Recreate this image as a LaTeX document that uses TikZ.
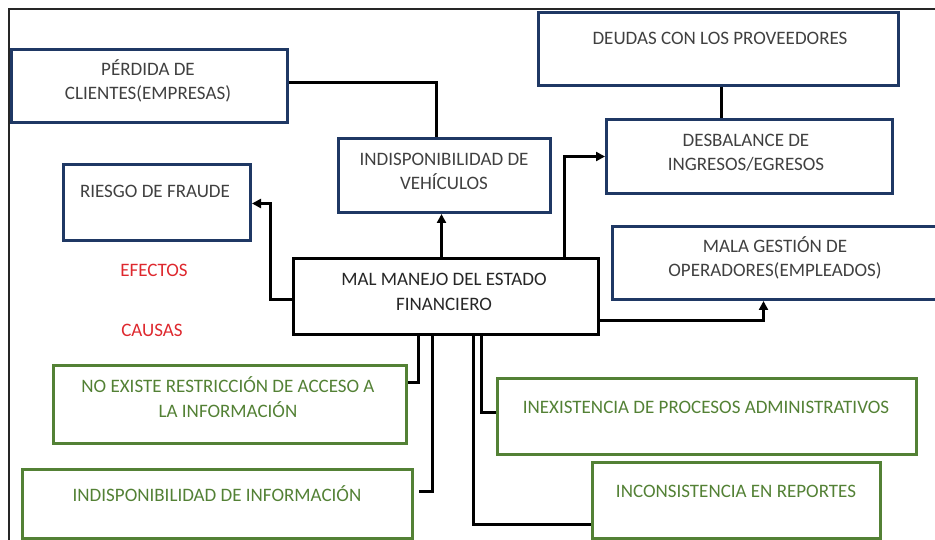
\documentclass[tikz,border=0pt]{standalone}
\usepackage{fontspec}
\setmainfont{Carlito}
\usetikzlibrary{arrows.meta}
\definecolor{navy}{RGB}{31,56,100}
\definecolor{leaf}{RGB}{83,129,53}
\definecolor{ink}{RGB}{64,64,64}
\definecolor{redtx}{RGB}{222,40,46}
\tikzset{
  ebox/.style={draw=navy, line width=3pt, rectangle, inner sep=0pt, anchor=north west},
  cbox/.style={draw=leaf, line width=3pt, rectangle, inner sep=0pt, anchor=north west},
  mbox/.style={draw=black, line width=3pt, rectangle, inner sep=0pt, anchor=north west},
  etx/.style={text=ink, font=\fontsize{19}{24.5}\selectfont, align=center, anchor=base, inner sep=0pt},
  ctx/.style={etx, text=leaf},
  rtx/.style={etx, text=redtx},
  wire/.style={draw=black, line width=3pt},
  arr/.style={wire, -{Triangle[length=9pt,width=9pt]}},
  frame/.style={draw=black!85, line width=1.5pt}
}
\begin{document}
\begin{tikzpicture}[x=1pt,y=-1pt]
\useasboundingbox (0,0) rectangle (935,540);
\draw[frame] (935,9) -- (9,9) -- (9,540);
% effects
\node[ebox, minimum width=276, minimum height=73] (perd) at (10,48) {};
\node[ebox, minimum width=187, minimum height=76] (ries) at (62,163) {};
\node[ebox, minimum width=212, minimum height=74] (veh) at (337,137) {};
\node[ebox, minimum width=360, minimum height=73] (deud) at (537,11) {};
\node[ebox, minimum width=286, minimum height=74] (desb) at (605,118) {};
\node[ebox, minimum width=329, minimum height=73] (mala) at (611,225) {};
% core
\node[mbox, minimum width=305, minimum height=76, fill=white] (mal) at (292,257) {};
% causes
\node[cbox, minimum width=353, minimum height=78] (noex) at (52,364) {};
\node[cbox, minimum width=390, minimum height=69] (info) at (21,468) {};
\node[cbox, minimum width=419, minimum height=76] (inex) at (496,377) {};
\node[cbox, minimum width=288, minimum height=76] (inco) at (591,461) {};
% texts (base = baseline of last line)
\node[etx] (tperd) at (148,100) {PÉRDIDA DE\\CLIENTES(EMPRESAS)};
\node[etx] (tries) at (155,198) {RIESGO DE FRAUDE};
\node[etx] (tveh) at (444,190) {INDISPONIBILIDAD DE\\VEHÍCULOS};
\node[etx] (tdeud) at (720,45) {DEUDAS CON LOS PROVEEDORES};
\node[etx] (tdesb) at (746,171) {DESBALANCE DE\\INGRESOS/EGRESOS};
\node[etx] (tmala) at (775,277) {MALA GESTIÓN DE\\OPERADORES(EMPLEADOS)};
\node[etx, text=black!85] (tmal) at (444,310) {MAL MANEJO DEL ESTADO\\FINANCIERO};
\node[rtx] (tefe) at (154,277) {EFECTOS};
\node[rtx] (tcau) at (152,337) {CAUSAS};
\node[ctx] (tnoex) at (228,417) {NO EXISTE RESTRICCIÓN DE ACCESO A\\LA INFORMACIÓN};
\node[ctx] (tinfo) at (217,501) {INDISPONIBILIDAD DE INFORMACIÓN};
\node[ctx] (tinex) at (706,413) {INEXISTENCIA DE PROCESOS ADMINISTRATIVOS};
\node[ctx] (tinco) at (736,497) {INCONSISTENCIA EN REPORTES};
% connectors
\draw[wire] ([yshift=3.5pt]perd.east) -| ([xshift=-8pt]veh.north);
\draw[arr] ([xshift=-4.5pt]mal.north) -- ([xshift=-4.5pt]mal.north |- veh.south);
\draw[arr] ([yshift=-3pt]mal.west) -- ++(-22,0) |- ([yshift=-1pt]ries.east);
\draw[arr] ([xshift=118.5pt]mal.north) |- (desb.west);
\draw[wire] ([xshift=3pt]deud.south) -- ([xshift=3pt]deud.south |- desb.north);
\draw[arr] ([yshift=-24pt]mal.east) -| ([xshift=-13.5pt]mala.south);
\coordinate (infoend) at (419,491);
\draw[wire] ([xshift=-27.5pt]mal.south) |- ([yshift=22pt]noex.east);
\draw[wire] ([xshift=-13.5pt]mal.south) |- (infoend);
\draw[wire] ([xshift=35.5pt]mal.south) |- ([yshift=4pt]inex.west);
\draw[wire] ([xshift=27.5pt]mal.south) |- ([yshift=-24pt]inco.west);
\end{tikzpicture}
\end{document}
